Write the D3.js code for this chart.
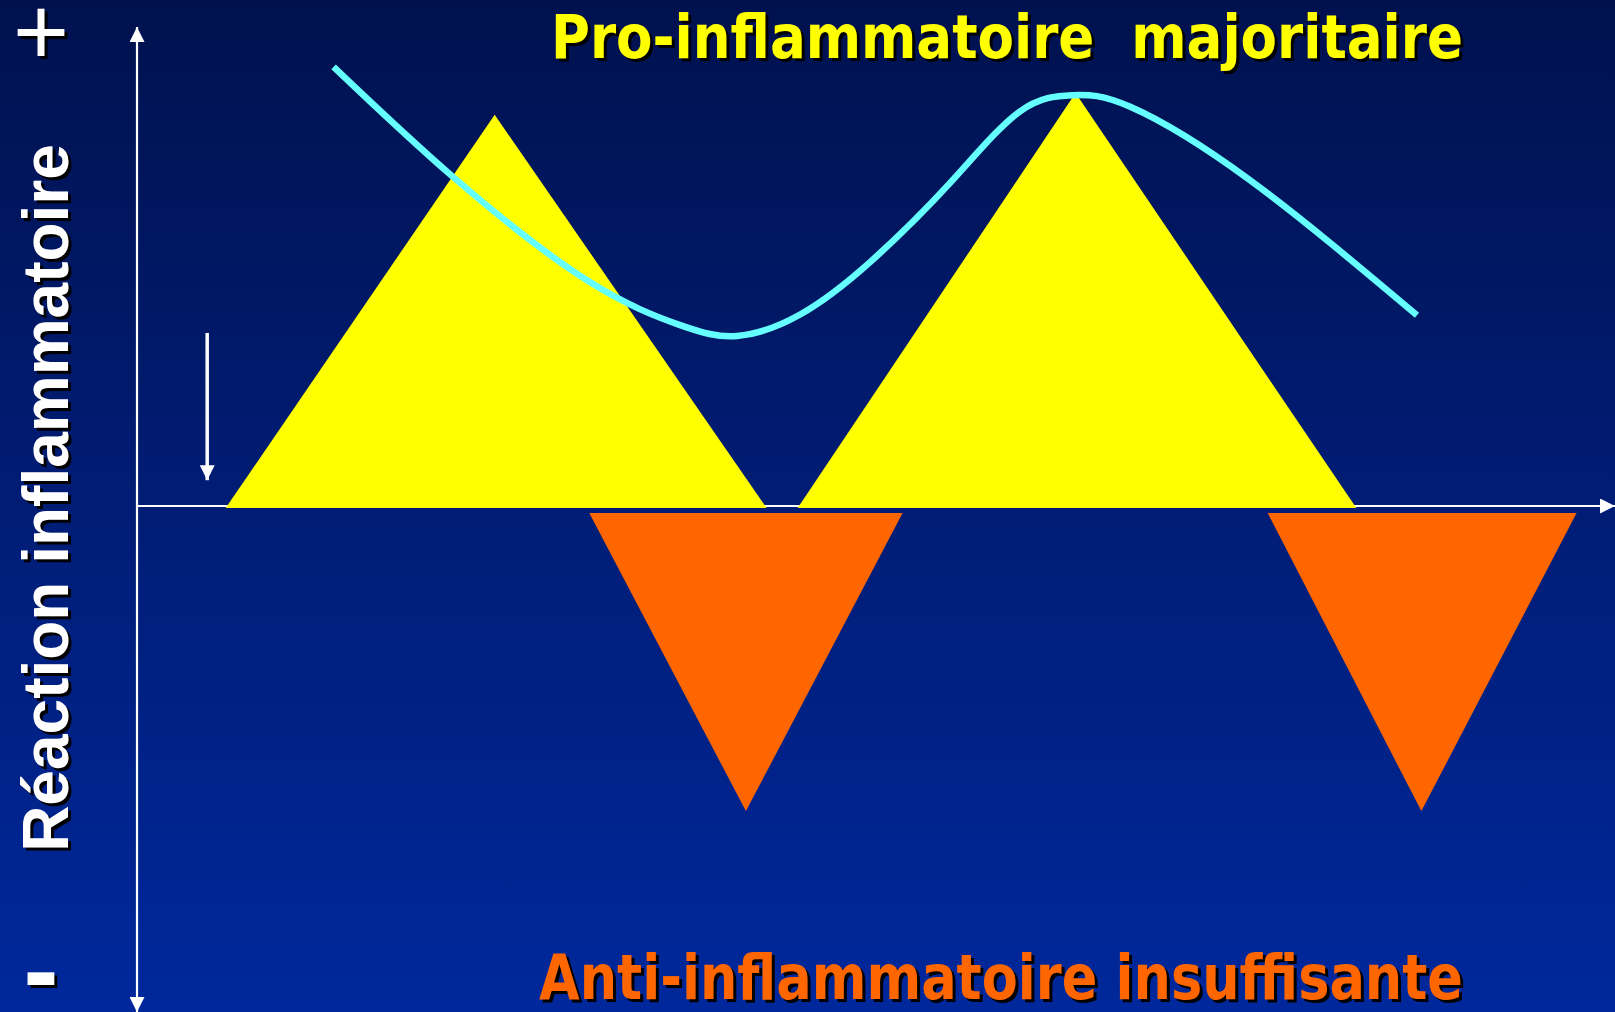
<!DOCTYPE html>
<html>
<head>
<meta charset="utf-8">
<script src="https://cdn.jsdelivr.net/npm/d3@7"></script>
<style>
  html, body { margin: 0; padding: 0; overflow: hidden; background: #001a70; }
  svg { display: block; }
</style>
</head>
<body>
<div class="canvas"></div>
<script>
const width = 1615
const height = 1012

// pro-inflammatory peaks (yellow, above the axis)
const proStart = [6.0, 44.7]
const proApex = [24.2, 63.5]
const proEnd = [42.6, 82.5]
const proHeight = [77.3, 81.6]
const proBase = -0.4

// anti-inflammatory troughs (orange, below the axis)
const antiStart = [30.6, 76.5]
const antiApex = [41.2, 86.9]
const antiEnd = [51.8, 97.4]
const antiDepth = [-60.3, -60.3]
const antiTop = -1.4

// cyan curve
const curveX = [13.3, 21.4, 30.4, 36.7, 40.6, 44.9, 49.6, 55.0, 59.7, 63.3, 67.2, 75.3, 86.6]
const curveY = [86.8, 65.0, 44.7, 35.8, 33.6, 37.9, 48.2, 63.8, 77.9, 81.2, 78.9, 64.4, 37.7]

// small down arrow
const arrowX = 4.75
const arrowFrom = 34.2
const arrowTo = 5.1

const titleTop = 'Pro-inflammatoire  majoritaire'
const titleBottom = 'Anti-inflammatoire insuffisante'
const yLabel = 'Réaction inflammatoire'

const svg = d3.select('.canvas')
    .append('svg')
    .attr('width', width)
    .attr('height', height)

const defs = svg.append('defs')
const grad = defs.append('linearGradient')
    .attr('id', 'bg')
    .attr('x1', 0).attr('y1', 0).attr('x2', 0).attr('y2', 1)
grad.append('stop').attr('offset', '0%').attr('stop-color', '#00114e')
grad.append('stop').attr('offset', '100%').attr('stop-color', '#00289c')

const marker = (id, orient) => defs.append('marker')
    .attr('id', id)
    .attr('viewBox', '0 0 10 10')
    .attr('refX', 10).attr('refY', 5)
    .attr('markerUnits', 'userSpaceOnUse')
    .attr('markerWidth', 16).attr('markerHeight', 15)
    .attr('orient', orient)
    .append('path')
    .attr('d', 'M0,0 L10,5 L0,10 Z')
    .attr('fill', '#fff')
marker('arrow', 'auto')
marker('arrowStart', 'auto-start-reverse')

svg.append('rect')
    .attr('width', width)
    .attr('height', height)
    .attr('fill', 'url(#bg)')

// scales: x = time, y = inflammatory response
const x = d3.scaleLinear().domain([0, 100]).range([137, 1615])
const y = d3.scaleLinear().domain([-100, 100]).range([height, 0])

// axes
svg.append('line')
    .attr('x1', x(0)).attr('x2', x(0))
    .attr('y1', y(-100)).attr('y2', 27)
    .attr('stroke', '#fff').attr('stroke-width', 2.2)
    .attr('marker-start', 'url(#arrowStart)')
    .attr('marker-end', 'url(#arrow)')

svg.append('line')
    .attr('x1', x(0)).attr('x2', x(100))
    .attr('y1', y(0)).attr('y2', y(0))
    .attr('stroke', '#fff').attr('stroke-width', 2.2)
    .attr('marker-end', 'url(#arrow)')

// triangles
const pro = proStart.map((s, i) => [[s, proBase], [proApex[i], proHeight[i]], [proEnd[i], proBase]])
const anti = antiStart.map((s, i) => [[s, antiTop], [antiApex[i], antiDepth[i]], [antiEnd[i], antiTop]])

const tri = d3.line().x(d => x(d[0])).y(d => y(d[1]))

svg.selectAll('path.anti')
    .data(anti)
    .enter()
    .append('path')
    .attr('class', 'anti')
    .attr('d', d => tri(d) + 'Z')
    .attr('fill', '#ff6600')

svg.selectAll('path.pro')
    .data(pro)
    .enter()
    .append('path')
    .attr('class', 'pro')
    .attr('d', d => tri(d) + 'Z')
    .attr('fill', '#ffff00')

// cyan curve
const curve = d3.line()
    .x(d => x(d[0]))
    .y(d => y(d[1]))
    .curve(d3.curveNatural)

svg.append('path')
    .attr('d', curve(curveX.map((v, i) => [v, curveY[i]])))
    .attr('fill', 'none')
    .attr('stroke', '#66ffff')
    .attr('stroke-width', 6.5)

// small arrow
svg.append('line')
    .attr('x1', x(arrowX)).attr('x2', x(arrowX))
    .attr('y1', y(arrowFrom)).attr('y2', y(arrowTo))
    .attr('stroke', '#fff').attr('stroke-width', 3.5)
    .attr('marker-end', 'url(#arrow)')

// text with drop shadow
const shadowText = (txt, px, py, opts) => {
    const g = svg.append('g')
    ;[['#000', 3], [opts.fill, 0]].forEach(([c, o]) => {
        const t = g.append('text')
            .attr('transform', `translate(${px + o}, ${py + o})` + (opts.rotate ? ` rotate(${opts.rotate})` : ''))
            .attr('text-anchor', opts.anchor || 'start')
            .attr('font-family', opts.family)
            .attr('font-weight', opts.weight || 'bold')
            .attr('font-size', opts.size)
            .attr('fill', c)
            .style('white-space', 'pre')
            .text(txt)
        if (opts.length) t.attr('textLength', opts.length).attr('lengthAdjust', 'spacingAndGlyphs')
    })
}

shadowText(titleTop, 551, 58, {fill: '#ffff00', family: '"DejaVu Sans Condensed", "DejaVu Sans", sans-serif', size: 60, length: 912})
shadowText(titleBottom, 539, 999, {fill: '#ff6600', family: '"DejaVu Sans Condensed", "DejaVu Sans", sans-serif', size: 62, length: 924})
shadowText(yLabel, 68, 498, {fill: '#fff', family: '"Liberation Sans", Arial, sans-serif', size: 64, anchor: 'middle', rotate: -90})
shadowText('+', 41, 65, {fill: '#fff', family: '"Liberation Sans", Arial, sans-serif', size: 96, weight: 'normal', anchor: 'middle'})
shadowText('-', 41, 1006, {fill: '#fff', family: '"Liberation Sans", Arial, sans-serif', size: 105, anchor: 'middle'})
</script>
</body>
</html>
